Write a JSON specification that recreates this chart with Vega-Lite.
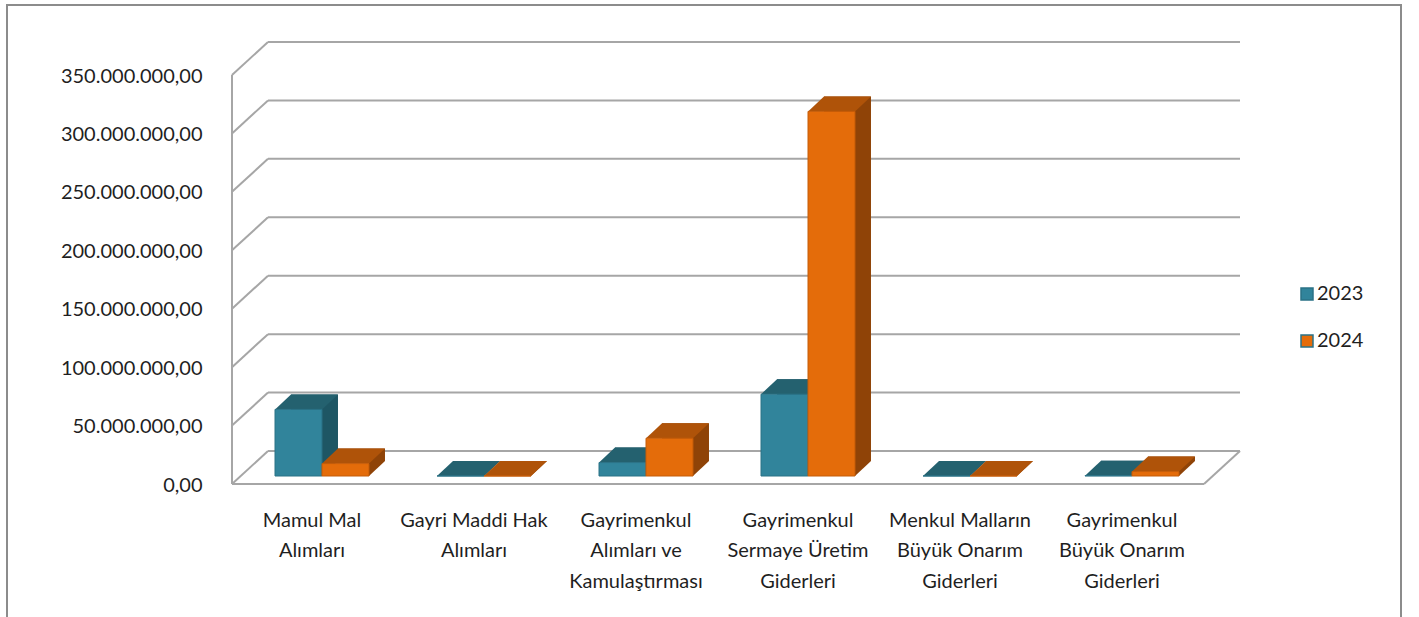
{
  "$schema": "https://vega.github.io/schema/vega-lite/v6.json",
  "width": 972,
  "height": 409,
  "autosize": {"type": "none"},
  "padding": {"left": 268, "top": 42, "right": 179, "bottom": 166},
  "background": "#ffffff",
  "config": {
    "view": {"stroke": null},
    "font": "Lato",
    "locale": {"number": {"decimal": ",", "thousands": ".", "grouping": [3], "currency": ["", ""]}}
  },
  "data": {
    "values": [
      {"cat": "Mamul Mal Alımları", "year": "2023", "value": 57000000},
      {"cat": "Mamul Mal Alımları", "year": "2024", "value": 10600000},
      {"cat": "Gayri Maddi Hak Alımları", "year": "2023", "value": 0},
      {"cat": "Gayri Maddi Hak Alımları", "year": "2024", "value": 0},
      {"cat": "Gayrimenkul Alımları ve Kamulaştırması", "year": "2023", "value": 11500000},
      {"cat": "Gayrimenkul Alımları ve Kamulaştırması", "year": "2024", "value": 32300000},
      {"cat": "Gayrimenkul Sermaye Üretim Giderleri", "year": "2023", "value": 70000000},
      {"cat": "Gayrimenkul Sermaye Üretim Giderleri", "year": "2024", "value": 312000000},
      {"cat": "Menkul Malların Büyük Onarım Giderleri", "year": "2023", "value": 0},
      {"cat": "Menkul Malların Büyük Onarım Giderleri", "year": "2024", "value": 0},
      {"cat": "Gayrimenkul Büyük Onarım Giderleri", "year": "2023", "value": 300000},
      {"cat": "Gayrimenkul Büyük Onarım Giderleri", "year": "2024", "value": 3800000}
    ]
  },
  "resolve": {"scale": {"x": "independent"}},
  "layer": [
    {
      "layer": [
        {
          "data": {"values": [{"v": 0}, {"v": 50000000}, {"v": 100000000}, {"v": 150000000}, {"v": 200000000}, {"v": 250000000}, {"v": 300000000}, {"v": 350000000}]},
          "mark": {"type": "rule", "color": "#a6a6a6", "strokeWidth": 2, "xOffset": -36, "yOffset": 33, "x2Offset": 0, "y2Offset": 0},
          "encoding": {
            "x": {"datum": 0, "type": "quantitative", "scale": {"domain": [0, 1]}, "axis": null},
            "x2": {"datum": 0},
            "y": {"field": "v", "type": "quantitative"},
            "y2": {"field": "v"}
          }
        },
        {
          "data": {"values": [{"v": 0}, {"v": 50000000}, {"v": 100000000}, {"v": 150000000}, {"v": 200000000}, {"v": 250000000}, {"v": 300000000}, {"v": 350000000}]},
          "mark": {"type": "rule", "color": "#a6a6a6", "strokeWidth": 2},
          "encoding": {
            "x": {"datum": 0, "type": "quantitative"},
            "x2": {"datum": 1},
            "y": {"field": "v", "type": "quantitative"},
            "y2": {"field": "v"}
          }
        },
        {
          "data": {"values": [{"k": 1}]},
          "mark": {"type": "rule", "color": "#a6a6a6", "strokeWidth": 2, "xOffset": -36, "x2Offset": -36, "yOffset": 33, "y2Offset": 33},
          "encoding": {
            "x": {"datum": 0, "type": "quantitative"},
            "x2": {"datum": 0},
            "y": {"datum": 0, "type": "quantitative"},
            "y2": {"datum": 350000000}
          }
        },
        {
          "data": {"values": [{"k": 1}]},
          "mark": {"type": "rule", "color": "#a6a6a6", "strokeWidth": 2, "xOffset": -36, "x2Offset": -36, "yOffset": 33, "y2Offset": 33},
          "encoding": {
            "x": {"datum": 0, "type": "quantitative"},
            "x2": {"datum": 1},
            "y": {"datum": 0, "type": "quantitative"},
            "y2": {"datum": 0}
          }
        },
        {
          "data": {"values": [{"k": 1}]},
          "mark": {"type": "rule", "color": "#a6a6a6", "strokeWidth": 2, "xOffset": 0, "x2Offset": -36, "yOffset": 0, "y2Offset": 33},
          "encoding": {
            "x": {"datum": 1, "type": "quantitative"},
            "x2": {"datum": 1},
            "y": {"datum": 0, "type": "quantitative"},
            "y2": {"datum": 0}
          }
        },
        {
          "data": {"values": [{"k": 1}]},
          "mark": {"type": "rect", "filled": false, "stroke": "#8c8c8c", "strokeWidth": 2, "xOffset": -261, "x2Offset": 161, "yOffset": -37, "y2Offset": 200},
          "encoding": {
            "x": {"datum": 0, "type": "quantitative"},
            "x2": {"datum": 1},
            "y": {"datum": 350000000, "type": "quantitative"},
            "y2": {"datum": 0}
          }
        }
      ]
    },
    {
      "encoding": {
        "x": {
          "field": "cat",
          "type": "nominal",
          "sort": null,
          "scale": {
            "domain": ["Mamul Mal Alımları", "Gayri Maddi Hak Alımları", "Gayrimenkul Alımları ve Kamulaştırması", "Gayrimenkul Sermaye Üretim Giderleri", "Menkul Malların Büyük Onarım Giderleri", "Gayrimenkul Büyük Onarım Giderleri"],
            "paddingInner": 0.71,
            "paddingOuter": 0.355
          },
          "axis": {
            "orient": "bottom",
            "title": null,
            "domain": false,
            "ticks": false,
            "labelAngle": 0,
            "labelPadding": 59,
            "labelOffset": -37,
            "labelFont": "Lato",
            "labelFontSize": 20,
            "labelColor": "#1f1f1f",
            "labelLineHeight": 30.5,
            "labelBaseline": "top",
            "labelLimit": 0,
            "labelExpr": "datum.value == 'Mamul Mal Alımları' ? ['Mamul Mal', 'Alımları'] : datum.value == 'Gayri Maddi Hak Alımları' ? ['Gayri Maddi Hak', 'Alımları'] : datum.value == 'Gayrimenkul Alımları ve Kamulaştırması' ? ['Gayrimenkul', 'Alımları ve', 'Kamulaştırması'] : datum.value == 'Gayrimenkul Sermaye Üretim Giderleri' ? ['Gayrimenkul', 'Sermaye Üretim', 'Giderleri'] : datum.value == 'Menkul Malların Büyük Onarım Giderleri' ? ['Menkul Malların', 'Büyük Onarım', 'Giderleri'] : ['Gayrimenkul', 'Büyük Onarım', 'Giderleri']"
          }
        },
        "y": {
          "field": "value",
          "type": "quantitative",
          "scale": {"domain": [0, 350000000], "nice": false},
          "axis": {
            "orient": "left",
            "title": null,
            "domain": false,
            "ticks": false,
            "grid": false,
            "values": [0, 50000000, 100000000, 150000000, 200000000, 250000000, 300000000, 350000000],
            "format": ",.2f",
            "labelPadding": 66,
            "labelOffset": 34,
            "labelFont": "Lato",
            "labelFontSize": 20,
            "labelColor": "#1f1f1f"
          }
        }
      },
      "layer": [
        {
          "transform": [{"filter": "datum.year == '2023'"}],
          "layer": [
            {"mark": {"type": "bar", "color": "#1e5664", "xOffset": -34.5, "yOffset": 10, "y2Offset": 10}},
            {
              "mark": {"type": "point", "shape": "M 23.5 0 L 23.5 -15 L 39.5 -15 Z", "size": 4, "filled": true, "opacity": 1, "color": "#1e5664", "strokeWidth": 0, "xOffset": -50.5, "yOffset": 25},
              "encoding": {"y": {"datum": 0, "type": "quantitative"}}
            },
            {"mark": {"type": "point", "shape": "M -23.5 0 L 23.5 0 L 39.5 -15 L -7.5 -15 Z", "size": 4, "filled": true, "opacity": 1, "color": "#24616f", "strokeWidth": 0, "xOffset": -50.5, "yOffset": 25}},
            {
              "mark": {"type": "bar", "xOffset": -50.5, "yOffset": 25, "y2Offset": 25, "stroke": "#2a7286", "strokeWidth": 1},
              "encoding": {
                "color": {
                  "field": "year",
                  "type": "nominal",
                  "scale": {"domain": ["2023", "2024"], "range": ["#31849b", "#e46c0a"]},
                  "legend": {"title": null, "orient": "none", "legendX": 1029, "legendY": 242, "symbolType": "square", "symbolSize": 144, "labelFont": "Lato", "labelFontSize": 20, "labelColor": "#1f1f1f", "rowPadding": 27, "labelOffset": 0, "padding": 0}
                }
              }
            }
          ]
        },
        {
          "transform": [{"filter": "datum.year == '2024'"}],
          "layer": [
            {"mark": {"type": "bar", "color": "#8f4307", "xOffset": 12.5, "yOffset": 10, "y2Offset": 10}},
            {
              "mark": {"type": "point", "shape": "M 23.5 0 L 23.5 -15 L 39.5 -15 Z", "size": 4, "filled": true, "opacity": 1, "color": "#8f4307", "strokeWidth": 0, "xOffset": -3.5, "yOffset": 25},
              "encoding": {"y": {"datum": 0, "type": "quantitative"}}
            },
            {"mark": {"type": "point", "shape": "M -23.5 0 L 23.5 0 L 39.5 -15 L -7.5 -15 Z", "size": 4, "filled": true, "opacity": 1, "color": "#af5309", "strokeWidth": 0, "xOffset": -3.5, "yOffset": 25}},
            {
              "mark": {"type": "bar", "xOffset": -3.5, "yOffset": 25, "y2Offset": 25, "stroke": "#c55c08", "strokeWidth": 1},
              "encoding": {
                "color": {"field": "year", "type": "nominal"}
              }
            }
          ]
        }
      ]
    }
  ]
}
